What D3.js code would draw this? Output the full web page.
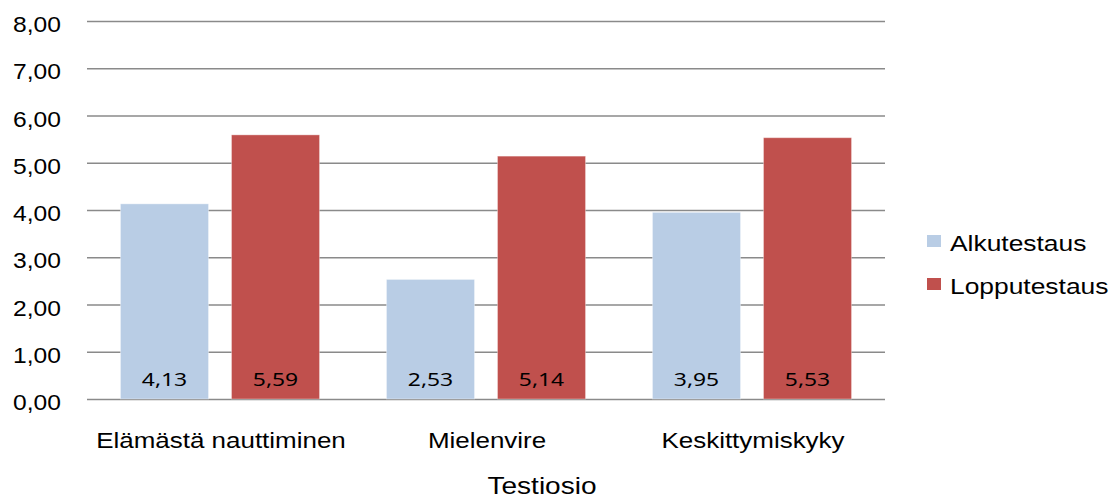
<!DOCTYPE html>
<html><head><meta charset="utf-8">
<script src="https://cdn.jsdelivr.net/npm/d3@7"></script>
<style>
html,body{margin:0;padding:0;background:#fff;}
svg{display:block;}
</style></head>
<body>
<script>
const categories = ["Elämästä nauttiminen", "Mielenvire", "Keskittymiskyky"];
const seriesNames = ["Alkutestaus", "Lopputestaus"];
const alkutestaus = [4.13, 2.53, 3.95];
const lopputestaus = [5.59, 5.14, 5.53];
const yTicks = [0, 1, 2, 3, 4, 5, 6, 7, 8];
const axisTitle = "Testiosio";
const colors = ["#B9CDE5", "#C0504D"];

const W = 1114, H = 499;
const plotL = 87, plotR = 885, plotT = 21, plotB = 399;
const FONT = "'Liberation Sans', Arial, sans-serif";

const fi = d3.formatLocale({decimal: ",", thousands: "\u00a0", grouping: [3], currency: ["", "€"]});
const fmt = fi.format(".2f");

const svg = d3.select("body").append("svg").attr("width", W).attr("height", H);

const y = d3.scaleLinear().domain([0, 8]).range([plotB, plotT]);
const x0 = d3.scaleBand().domain(categories).range([plotL, plotR]).paddingInner(0).paddingOuter(0);
const x1 = d3.scaleBand().domain(seriesNames).range([0, x0.bandwidth()]).paddingInner(0.207).paddingOuter(0.3015);

// gridlines + y labels via axis
const yAxis = d3.axisLeft(y).tickValues(yTicks).tickSize(-(plotR - plotL)).tickPadding(0).tickFormat(fmt);
const gy = svg.append("g").attr("transform", `translate(${plotL},0)`).call(yAxis);
gy.select(".domain").remove();
gy.selectAll(".tick line").attr("stroke", "#8a8a8a").attr("stroke-width", 1.6);
gy.selectAll(".tick text")
  .attr("x", null).attr("dy", null)
  .attr("transform", `translate(-26,10.5) scale(1.12,1)`)
  .attr("text-anchor", "end")
  .style("font-family", FONT)
  .style("font-size", "22px").attr("fill", "#000");

const data = categories.map((c, i) => ({cat: c, vals: [
  {s: seriesNames[0], v: alkutestaus[i]},
  {s: seriesNames[1], v: lopputestaus[i]}
]}));

const groups = svg.append("g").selectAll("g").data(data).join("g")
  .attr("transform", d => `translate(${x0(d.cat)},0)`);

groups.selectAll("rect").data(d => d.vals).join("rect")
  .attr("x", d => x1(d.s))
  .attr("width", x1.bandwidth())
  .attr("y", d => y(d.v))
  .attr("height", d => y(0) - y(d.v))
  .attr("fill", (d, i) => colors[i])
  .attr("stroke", "rgba(255,255,255,0.35)")
  .attr("stroke-width", 1);

groups.selectAll("text.lbl").data(d => d.vals).join("text").attr("class", "lbl")
  .attr("transform", d => `translate(${x1(d.s) + x1.bandwidth() / 2},${y(0) - 13}) scale(1.27,1)`)
  .attr("text-anchor", "middle")
  .style("font-family", "'Noto Sans', sans-serif").style("font-size", "18px")
  .attr("fill", "#000")
  .text(d => fmt(d.v));

// category labels
const xAxis = d3.axisBottom(x0).tickSize(0).tickPadding(0);
const gx = svg.append("g").attr("transform", `translate(0,${plotB})`).call(xAxis);
gx.select(".domain").remove();
gx.selectAll(".tick text")
  .attr("y", null).attr("dy", null)
  .attr("transform", `translate(1,49) scale(1.18,1)`)
  .style("font-family", FONT)
  .style("font-size", "22px").attr("fill", "#000");

svg.append("text")
  .attr("transform", `translate(542,494) scale(1.22,1)`)
  .attr("text-anchor", "middle")
  .style("font-family", FONT)
  .style("font-size", "23px").attr("fill", "#000")
  .text(axisTitle);

// legend
const leg = svg.append("g").attr("transform", "translate(927,235)");
const ly = d3.scaleBand().domain(seriesNames).range([0, 86]).paddingInner(0);
const li = leg.selectAll("g").data(seriesNames).join("g")
  .attr("transform", d => `translate(0,${ly(d)})`);
li.append("rect").attr("width", 14).attr("height", 12).attr("fill", (d, i) => colors[i]);
li.append("text")
  .attr("transform", `translate(23,16) scale(1.2,1)`)
  .style("font-family", FONT)
  .style("font-size", "22px").attr("fill", "#000")
  .text(d => d);
</script>
</body></html>
